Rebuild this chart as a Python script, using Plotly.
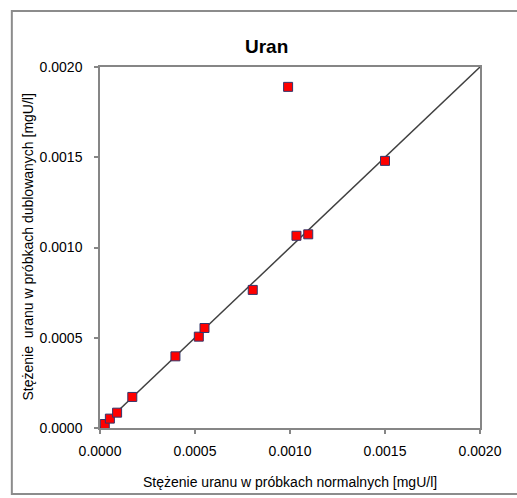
import plotly.graph_objects as go

# Data
normal_x = [0.000025, 0.000052, 0.000090, 0.000170, 0.000397, 0.000520, 0.000550,
            0.000804, 0.000990, 0.001034, 0.001096, 0.001500]
duplicate_y = [0.000022, 0.000052, 0.000085, 0.000172, 0.000397, 0.000506, 0.000554,
               0.000765, 0.001890, 0.001065, 0.001073, 0.001480]
line_x = [0.0, 0.002]
line_y = [0.0, 0.002]
tick_vals = [0.0, 0.0005, 0.0010, 0.0015, 0.0020]
tick_text = ["0.0000", "0.0005", "0.0010", "0.0015", "0.0020"]

title_text = "Uran"
x_title = "Stężenie uranu w próbkach normalnych [mgU/l]"
y_title = "Stężenie  uranu w próbkach dublowanych [mgU/l]"

FONT = "Liberation Sans, Arial, sans-serif"
AXIS_GRAY = "#868686"

fig = go.Figure()
fig.add_trace(go.Scatter(x=line_x, y=line_y, mode="lines",
                         line=dict(color="#404040", width=1.5),
                         showlegend=False, hoverinfo="skip"))
fig.add_trace(go.Scatter(x=normal_x, y=duplicate_y, mode="markers",
                         marker=dict(symbol="square", size=9, color="#ff0000",
                                     line=dict(color="#33366b", width=1)),
                         showlegend=False, cliponaxis=False))

axis_common = dict(range=[0, 0.002], tickvals=tick_vals, ticktext=tick_text,
                   showgrid=False, zeroline=False, showline=True,
                   linecolor=AXIS_GRAY, linewidth=1.5, mirror=True,
                   ticks="outside", ticklen=4, tickwidth=1.5, tickcolor=AXIS_GRAY,
                   tickfont=dict(family=FONT, size=14, color="#000000"))

fig.update_xaxes(**axis_common, ticklabelstandoff=5)
fig.update_yaxes(**axis_common, ticklabelstandoff=9)

fig.update_layout(
    width=517, height=498,
    margin=dict(l=100, r=37, t=67, b=70, pad=0),
    paper_bgcolor="white", plot_bgcolor="white",
    font=dict(family=FONT, size=14, color="#000000"),
    shapes=[dict(type="rect", xref="paper", yref="paper",
                 x0=-0.232, x1=1.11, y0=-0.183, y1=1.155,
                 line=dict(color="#8c8c8c", width=2), fillcolor="rgba(0,0,0,0)",
                 layer="below")],
    annotations=[
        dict(text="<b>" + title_text + "</b>", xref="paper", yref="paper",
             x=0.437, y=1.058, xanchor="center", yanchor="middle", showarrow=False,
             font=dict(family=FONT, size=19, color="#000000")),
        dict(text=x_title, xref="paper", yref="paper",
             x=0.5, y=-0.15, xanchor="center", yanchor="middle", showarrow=False,
             font=dict(family=FONT, size=14, color="#000000")),
        dict(text=y_title, xref="paper", yref="paper", textangle=-90,
             x=-0.192, y=0.5, xanchor="center", yanchor="middle", showarrow=False,
             font=dict(family=FONT, size=14, color="#000000")),
    ],
)

fig.write_html("out.html",
               config={"displayModeBar": False},
               post_script="document.body.style.margin='0';document.body.style.overflow='hidden';")
